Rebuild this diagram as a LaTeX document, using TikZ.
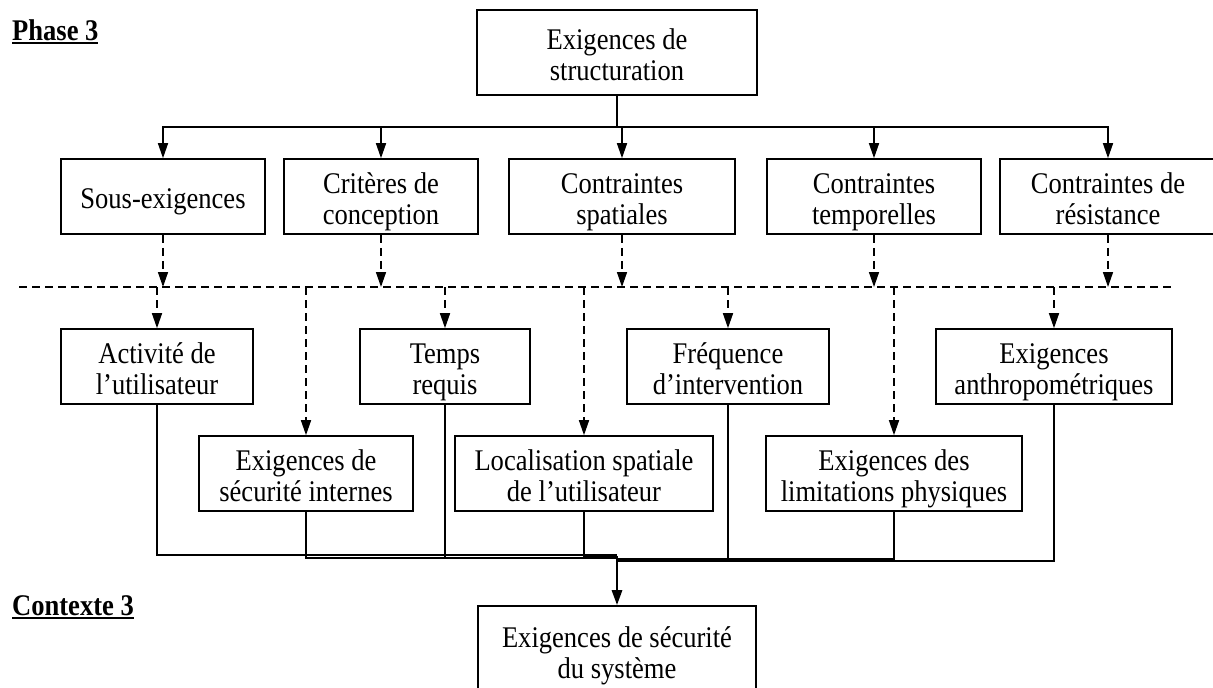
\documentclass[tikz,border=0pt]{standalone}
\usepackage{fontspec}
\setmainfont[FakeStretch=0.885]{Liberation Serif}
\usetikzlibrary{arrows.meta}
\newcommand\myul[1]{\setbox0\hbox{#1}\rlap{\rule[-3.5pt]{\wd0}{1.8pt}}\box0}
\newcommand\topst{\rule{0pt}{31pt}}
\newcommand\botst{\rule[-6.5pt]{0pt}{6.5pt}}
\begin{document}
\begin{tikzpicture}[x=1pt,y=-1pt,
  font=\fontsize{30}{30.5}\selectfont,
  box/.style={draw, line width=1.6pt, align=center, inner sep=2pt, minimum height=75pt},
  sline/.style={line width=1.5pt},
  tip/.style={-{Triangle[length=15pt,width=10pt]}},
  sarrow/.style={sline, tip},
  darrow/.style={line width=1.5pt, dash pattern=on 8pt off 5pt, tip},
  dline/.style={line width=1.5pt, dash pattern=on 8pt off 5pt},
  mainarrow/.style={line width=2.8pt, -{Triangle[length=15pt,width=10pt]}},
  lbl/.style={anchor=base west, inner sep=0pt, font=\fontsize{30}{30.5}\selectfont\bfseries}]
\useasboundingbox (0,0) rectangle (1213,688);

\node[lbl] (phase) at (12,40) {\myul{Phase 3}};
\node[lbl] (ctx) at (12,615) {\myul{Contexte 3}};

\node[box, minimum width=280, minimum height=85] (top) at (617,52.5) {\topst Exigences de\\structuration\botst};

\node[box, minimum width=204] (a1) at (163,196.5) {\topst Sous-exigences\botst};
\node[box, minimum width=194] (a2) at (381,196.5) {\topst Critères de\\conception\botst};
\node[box, minimum width=226] (a3) at (622,196.5) {\topst Contraintes\\spatiales\botst};
\node[box, minimum width=214] (a4) at (874,196.5) {\topst Contraintes\\temporelles\botst};
\node[box, minimum width=216] (a5) at (1108,196.5) {\topst Contraintes de\\résistance\botst};

\node[box, minimum width=192] (b1) at (157,366.5) {\topst Activité de\\l’utilisateur\botst};
\node[box, minimum width=170] (b3) at (445,366.5) {\topst Temps\\requis\botst};
\node[box, minimum width=202] (b5) at (728,366.5) {\topst Fréquence\\d’intervention\botst};
\node[box, minimum width=236] (b7) at (1054,366.5) {\topst Exigences\\anthropométriques\botst};

\node[box, minimum width=214] (b2) at (306,473.5) {\topst Exigences de\\sécurité internes\botst};
\node[box, minimum width=258] (b4) at (584,473.5) {\topst Localisation spatiale\\de l’utilisateur\botst};
\node[box, minimum width=256] (b6) at (894,473.5) {\topst Exigences des\\limitations physiques\botst};

\node[box, minimum width=278, minimum height=89] (c) at (617,650.5) {\topst Exigences de sécurité\\du système\botst};

% top tree
\coordinate (bus) at (617,127);
\draw[sline] (top.south) -- (bus);
\foreach \n in {a1,a2,a3,a4,a5} \draw[sarrow] (bus) -| (\n.north);

% dashed separator
\coordinate (dl) at (19,287);
\coordinate (dr) at (1172,287);
\draw[dline] (dl) -- (dr);
\foreach \n in {a1,a2,a3,a4,a5} \draw[darrow] (\n.south) -- (\n.south |- dl);
\foreach \n in {b1,b2,b3,b4,b5,b6,b7} \draw[darrow] (\n.north |- dl) -- (\n.north);

% collectors
\coordinate (k1) at (617,555);
\coordinate (k2) at (617,558);
\coordinate (k3) at (617,557.5);
\coordinate (k4) at (617,557);
\coordinate (k5) at (617,558.5);
\coordinate (k6) at (617,559);
\coordinate (k7) at (617,561);
\draw[sline] (b1.south) |- (k1);
\draw[sline] (b2.south) |- (k2);
\draw[sline] (b3.south) |- (k3);
\draw[sline] (b4.south) |- (k4);
\draw[sline] (b5.south) |- (k5);
\draw[sline] (b6.south) |- (k6);
\draw[sline] (b7.south) |- (k7);
\coordinate (m) at (617,556);
\draw[mainarrow] (m) -- (c.north);
\end{tikzpicture}
\end{document}
